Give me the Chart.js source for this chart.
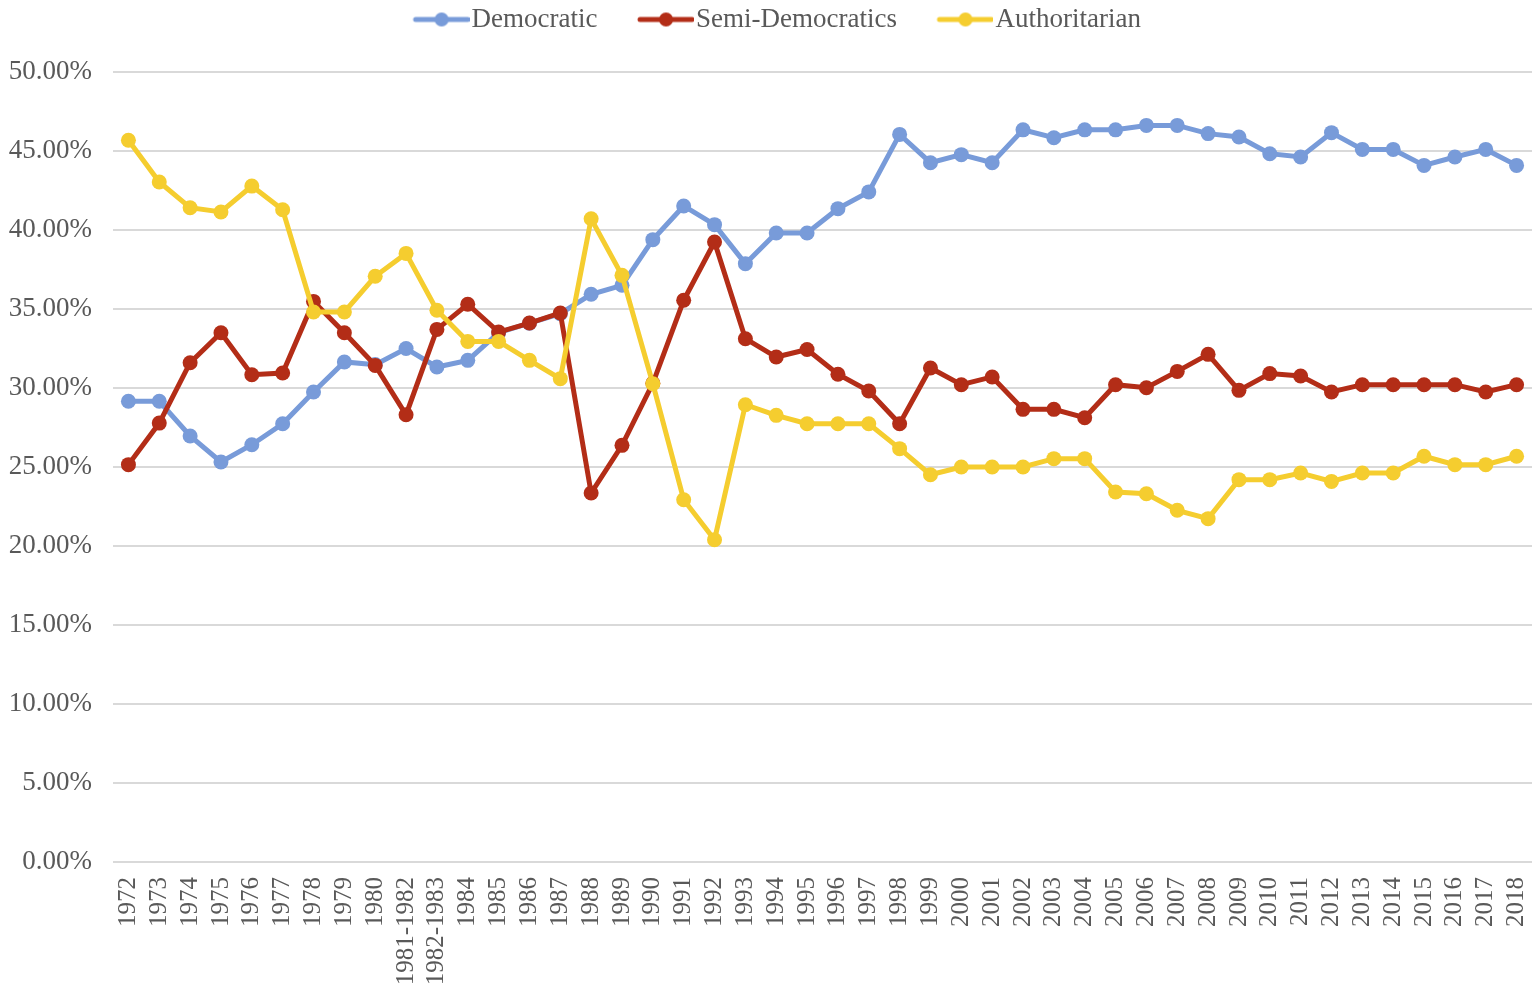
<!DOCTYPE html>
<html>
<head>
<meta charset="utf-8">
<script src="https://cdn.jsdelivr.net/npm/chart.js@4.4.0/dist/chart.umd.min.js"></script>
<style>
body { margin: 0; background: #fff; }
#wrap { width: 1534px; height: 991px; }
</style>
</head>
<body>
<div id="wrap"><canvas id="chart"></canvas></div>
<script>
var years = ['1972','1973','1974','1975','1976','1977','1978','1979','1980','1981-1982','1982-1983',
	'1984','1985','1986','1987','1988','1989','1990','1991','1992','1993','1994','1995','1996','1997',
	'1998','1999','2000','2001','2002','2003','2004','2005','2006','2007','2008','2009','2010','2011',
	'2012','2013','2014','2015','2016','2017','2018'];

var democratic = [29.16, 29.16, 26.96, 25.32, 26.41, 27.74, 29.75, 31.65, 31.48, 32.5, 31.33,
	31.75, 33.5, 34.1, 34.7, 35.93, 36.5, 39.39, 41.52, 40.34, 37.87, 39.81, 39.81, 41.35, 42.41,
	46.05, 44.26, 44.77, 44.26, 46.34, 45.84, 46.34, 46.34, 46.62, 46.62, 46.10, 45.89, 44.83, 44.62,
	46.16, 45.10, 45.10, 44.09, 44.62, 45.10, 44.09];

var semiDemocratic = [25.15, 27.78, 31.6, 33.5, 30.84, 30.95, 35.48, 33.5, 31.43, 28.31, 33.71,
	35.3, 33.54, 34.11, 34.75, 23.35, 26.37, 30.3, 35.55, 39.24, 33.12, 31.96, 32.44, 30.87, 29.81,
	27.74, 31.27, 30.21, 30.7, 28.65, 28.65, 28.12, 30.21, 30.02, 31.05, 32.13, 29.85, 30.91, 30.76,
	29.75, 30.21, 30.21, 30.21, 30.21, 29.75, 30.21];

var authoritarian = [45.68, 43.04, 41.41, 41.14, 42.78, 41.28, 34.81, 34.81, 37.07, 38.52, 34.92,
	32.95, 32.95, 31.75, 30.59, 40.71, 37.13, 30.27, 22.93, 20.4, 28.94, 28.27, 27.74, 27.74, 27.74,
	26.16, 24.51, 25.0, 25.0, 25.0, 25.53, 25.53, 23.42, 23.31, 22.26, 21.73, 24.2, 24.2, 24.62,
	24.09, 24.62, 24.62, 25.68, 25.15, 25.15, 25.68];

var seriesNames = ['Democratic', 'Semi-Democratics', 'Authoritarian'];
var seriesColors = ['#789bd9', '#b32d17', '#f5cd2f'];

var textColor = '#595959';
var fontFamily = '"Liberation Serif", "Times New Roman", serif';

// legend marker: a short line with a dot, like the office chart legend
function makeMarker(color) {
	var c = document.createElement('canvas');
	c.width = 102;
	c.height = 16;
	var g = c.getContext('2d');
	g.strokeStyle = color;
	g.lineWidth = 5;
	g.lineCap = 'round';
	g.beginPath();
	g.moveTo(48, 8);
	g.lineTo(100, 8);
	g.stroke();
	g.fillStyle = color;
	g.beginPath();
	g.arc(74, 8, 7, 0, Math.PI * 2);
	g.fill();
	return c;
}
var markers = seriesColors.map(makeMarker);

function lineSet(i, values, order) {
	return {
		label: seriesNames[i],
		data: values,
		borderColor: seriesColors[i],
		backgroundColor: seriesColors[i],
		borderWidth: 5,
		pointRadius: 7.5,
		pointHoverRadius: 7.5,
		pointBorderWidth: 0,
		tension: 0,
		order: order
	};
}

var legendTweak = {
	id: 'legendTweak',
	beforeInit: function (chart) {
		var origFit = chart.legend.fit;
		chart.legend.fit = function () {
			origFit.bind(chart.legend)();
			this.height += 29;
		};
	},
	afterLayout: function (chart) {
		chart.legend.left -= 6;
		chart.legend.right -= 6;
	}
};

new Chart(document.getElementById('chart'), {
	type: 'line',
	data: {
		labels: years,
		datasets: [
			lineSet(0, democratic, 3),
			lineSet(1, semiDemocratic, 2),
			lineSet(2, authoritarian, 1)
		]
	},
	plugins: [legendTweak],
	options: {
		responsive: true,
		maintainAspectRatio: false,
		animation: false,
		layout: { autoPadding: false, padding: { left: 0, right: 2, top: 0, bottom: 0 } },
		plugins: {
			tooltip: { enabled: false },
			legend: {
				position: 'top',
				align: 'center',
				labels: {
					usePointStyle: true,
					pointStyleWidth: 79,
					boxHeight: 16,
					padding: 6,
					color: textColor,
					font: { family: fontFamily, size: 27 },
					sort: function (a, b) { return a.datasetIndex - b.datasetIndex; },
					generateLabels: function (chart) {
						var items = Chart.defaults.plugins.legend.labels.generateLabels(chart);
						items.forEach(function (it) {
							it.pointStyle = markers[it.datasetIndex];
						});
						return items;
					}
				}
			}
		},
		scales: {
			x: {
				offset: true,
				grid: { display: false, drawTicks: false },
				border: { display: false },
				ticks: {
					color: textColor,
					font: { family: fontFamily, size: 25 },
					minRotation: 90,
					maxRotation: 90,
					autoSkip: false,
					padding: 15
				},
				afterFit: function (scale) {
					scale.height = 129;
					scale.paddingLeft = 0;
					scale.paddingRight = 0;
				}
			},
			y: {
				min: 0,
				max: 50,
				grid: { color: '#d9d9d9', lineWidth: 2, drawTicks: false },
				border: { display: false },
				ticks: {
					stepSize: 5,
					color: textColor,
					font: { family: fontFamily, size: 27 },
					padding: 21,
					callback: function (v) { return v.toFixed(2) + '%'; }
				},
				afterFit: function (scale) {
					scale.width = 113;
				}
			}
		}
	}
});
</script>
</body>
</html>
